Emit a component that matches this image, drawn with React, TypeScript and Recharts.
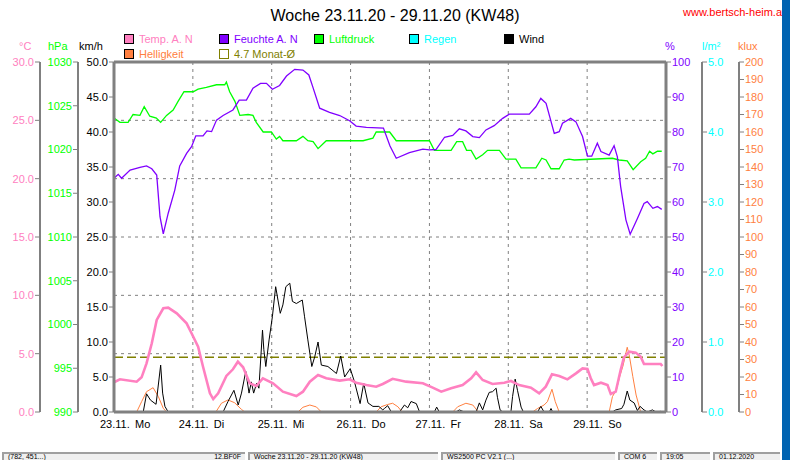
import React from 'react';
import { ComposedChart, Line, XAxis, YAxis, CartesianGrid, ReferenceLine } from 'recharts';

const FONT = '"Liberation Sans", Arial, sans-serif';
const COL = {
  temp: '#FF80C0',
  hum: '#8000FF',
  press: '#00FF00',
  rain: '#00FFFF',
  wind: '#000000',
  light: '#FF8040',
  avg: '#808000',
  axis: '#808080',
};

// x = hours since 23.11. 00:00
const DAY_TICKS = [0, 24, 48, 72, 96, 120, 144];
const DAY_DATES = ['23.11.', '24.11.', '25.11.', '26.11.', '27.11.', '28.11.', '29.11.'];
const DAY_NAMES = ['Mo', 'Di', 'Mi', 'Do', 'Fr', 'Sa', 'So'];

const KMH_TICKS = [0, 5, 10, 15, 20, 25, 30, 35, 40, 45, 50];
const HPA_TICKS = [990, 995, 1000, 1005, 1010, 1015, 1020, 1025, 1030];
const TEMP_TICKS = [0, 5, 10, 15, 20, 25, 30];
const HUM_TICKS = [0, 10, 20, 30, 40, 50, 60, 70, 80, 90, 100];
const RAIN_TICKS = [0, 1, 2, 3, 4, 5];
const LUX_TICKS = [0, 10, 20, 30, 40, 50, 60, 70, 80, 90, 100, 110, 120, 130, 140, 150, 160, 170, 180, 190, 200];

const MONTH_AVG_TEMP = 4.7;

// Temperature °C
const TEMP: [number, number][] = [
  [0, 2.55], [1.8, 2.8], [6.9, 2.6], [8.4, 2.97], [9.9, 4.17], [11.5, 5.89], [13, 7.89], [15, 8.89],
  [16.5, 8.94], [19.1, 8.46], [22.1, 7.6], [23.6, 6.75], [25.6, 5.6], [27.1, 3.88], [29.2, 1.6],
  [30.2, 1.11], [31.7, 1.6], [34.2, 3.09], [36.2, 3.66], [37.7, 4.31], [39.3, 3.83], [41.3, 2.46],
  [43.3, 2.23], [45.3, 2.89], [48.4, 2.46], [51.4, 1.74], [55.5, 1.37], [57.5, 1.74], [59.6, 2.6],
  [62.1, 3.17], [64.6, 2.89], [68.7, 2.69], [71.7, 2.8], [73.7, 2.51], [76.8, 2.31], [79.8, 2.17],
  [81.8, 2.4], [84.8, 2.85], [88.9, 2.6], [94, 2.46], [97, 2.09], [99.6, 1.74], [102.6, 2.03],
  [106.1, 2.31], [108.7, 2.89], [110.2, 3.4], [112.2, 2.74], [115.2, 2.4], [118.8, 2.51], [120.8, 2.66],
  [123.3, 2.31], [126.9, 2.09], [129.4, 1.6], [131.4, 2.17], [133.3, 3.23], [135.5, 3.09], [138, 2.8],
  [140.6, 3.31], [142.6, 3.74], [144.1, 3.69], [145.1, 2.89], [146.1, 2.31], [148.2, 2.51], [150.2, 2.31],
  [151.2, 1.54], [152.7, 1.74], [154.2, 3.6], [155.2, 4.69], [156.8, 5.17], [158.8, 5.09], [160.3, 4.74],
  [161.3, 4.11], [163.8, 4.11], [166.4, 4.11], [166.9, 3.94],
];

// Relative humidity %
const HUM: [number, number][] = [
  [0, 66.8], [1.3, 67.9], [2.3, 66.8], [4.9, 69.1], [7.9, 69.9], [9.9, 70.3], [11.5, 69.5], [13, 67.7],
  [14, 55.8], [15, 50.9], [16.5, 56.8], [18.5, 63.4], [20, 70.3], [22.1, 73.9], [23.6, 75.8], [24.9, 78.9],
  [27.1, 78.9], [28.3, 80.3], [29.7, 80.1], [31.2, 83.4], [33.2, 84.7], [36.2, 86.3], [38.1, 89.1],
  [40.3, 89.1], [42.3, 92.5], [44.6, 93.9], [46.4, 93.9], [48.2, 92.2], [50.4, 93.3], [52.5, 96],
  [55, 97.9], [57.5, 97.7], [59.3, 96.3], [60.5, 92.9], [62.6, 86.8], [65.6, 85.6], [68.7, 84.7],
  [71.7, 83.2], [73.7, 81.7], [76.8, 81.3], [82, 81.1], [84, 76], [85.9, 72.5], [89.9, 74.1], [94, 75.1],
  [96, 74.9], [98, 75.0], [100.6, 78.5], [103.1, 79.0], [105.1, 80.9], [107.1, 80.3], [109.2, 78.7],
  [111.2, 78.4], [113.2, 80.6], [115.7, 81.8], [118.3, 83.9], [120.3, 85.1], [126.4, 85.1], [128.4, 87.2],
  [129.9, 89.6], [131.5, 88.2], [134, 79.6], [135.5, 80.1], [136.5, 82.5], [139, 83.9], [140.6, 82.9],
  [142.6, 78.7], [144.1, 73.1], [145.4, 73.1], [147.1, 76.8], [148.2, 74.4], [150.7, 73.4], [152.2, 76.1],
  [153.2, 72.9], [154.2, 64.4], [155.8, 54.9], [157.1, 50.8], [159.3, 55.3], [161.3, 59.6], [162.3, 60.1],
  [164, 58.2], [165.4, 58.7], [166.7, 57.9],
];

// Air pressure hPa
const PRESS: [number, number][] = [
  [0, 1023.6], [1.8, 1023.1], [4.3, 1023.1], [5.8, 1024.0], [7.9, 1023.9], [9.2, 1024.9], [10.9, 1023.8],
  [12.9, 1023.6], [14.2, 1023.1], [16, 1023.9], [18, 1024.5], [19.5, 1025.5], [21.3, 1026.6], [24.1, 1026.6],
  [25.6, 1026.9], [28.1, 1027.1], [31.2, 1027.4], [33.7, 1027.4], [34.2, 1027.7], [35.2, 1026.6],
  [36.8, 1025.5], [38.3, 1023.9], [40.8, 1024.0], [42.3, 1023.9], [43.3, 1023.1], [45.4, 1022.0],
  [47.9, 1022.0], [49.4, 1021.2], [50.4, 1021.5], [51.4, 1021.0], [55.5, 1021.0], [57.5, 1021.5],
  [59, 1021.0], [60.6, 1020.9], [62.1, 1020.1], [64.6, 1021.0], [69.7, 1021.0], [75.8, 1021.0],
  [78.8, 1021.3], [79.8, 1022.0], [83.9, 1022.0], [85.9, 1021.0], [96, 1021.0], [97.5, 1019.9],
  [102.6, 1019.9], [104.3, 1020.9], [106.1, 1020.9], [107.3, 1019.9], [108.7, 1019.9], [110.2, 1018.9],
  [112.2, 1019.4], [113.7, 1019.9], [117.3, 1019.9], [119.3, 1018.9], [122.3, 1018.9], [123.9, 1017.9],
  [128.4, 1017.9], [130.2, 1019.0], [131.5, 1018.8], [133, 1017.8], [135.5, 1017.8],
  [137, 1018.8], [138.5, 1018.9], [140.1, 1018.8], [151.7, 1019.0], [153.7, 1018.8], [156.2, 1018.7],
  [158, 1017.7], [160.3, 1018.6], [161.8, 1019.0], [163, 1019.8], [164, 1019.5], [165.4, 1019.8],
  [166.7, 1019.8],
];

// Wind km/h
const WIND: [number, number][] = [
  [0, 0], [8.9, 0], [9.9, 2.6], [11.1, 1.7], [12.8, 1.1], [14.2, 6.7], [14.8, 2.7], [15.5, 0.8], [16.5, 0],
  [33.2, 0], [34.7, 1.5], [36.5, 3.1], [37.8, 1.0], [38.8, 2.7], [40.1, 5.8], [41.1, 2.7], [41.8, 4.3],
  [42.5, 2.7], [43.4, 4.1], [44.1, 3.4], [45.2, 11.7], [45.6, 8.9], [46.2, 6.5], [47.2, 10.3], [48.2, 13.6],
  [49.2, 17.9], [49.9, 16], [50.6, 14.1], [51.4, 15.3], [52.3, 17.9], [53.5, 18.4], [54.3, 15.8],
  [55.5, 15.5], [57.3, 16], [58, 13.6], [59, 10.3], [60.2, 6.5], [61.1, 7.9], [62.1, 10.0], [63.1, 6.7],
  [65.1, 6.5], [67.7, 5.5], [69, 8.0], [70.2, 5.0], [71.9, 6.2], [73.2, 4.3], [74.9, 1.2], [76, 4.1],
  [77.3, 1.3], [78.8, 0.8], [80.6, 0.8], [81.8, 0.3], [82.3, 0.5], [83.3, 0.9], [84.4, 0], [86.9, 0],
  [88.4, 1.0], [89.4, 0.6], [90.4, 1.5], [92, 1.2], [93, 0], [97.5, 0], [98.2, 0.7], [99, 0], [104.1, 0],
  [105.1, 0.3], [106.6, 0], [110.2, 0], [111.2, 1.3], [112.2, 0.3], [113.2, 1.7], [114.2, 2.8],
  [115.2, 2.9], [116.3, 3.4], [116.7, 2.1], [117.5, 0.3], [118.3, 0], [120.8, 0], [121.3, 2.2],
  [122.1, 4.7], [122.8, 3.1], [123.9, 0.7], [124.6, 0], [128.9, 0], [129.9, 0.8], [130.9, 0], [132.5, 0],
  [133, 0.5], [133.5, 0], [151.7, 0], [152.7, 0.3], [154.5, 0.5], [155.2, 1.1], [156.2, 3.0], [157, 1.7],
  [158.3, 1.3], [159.3, 0.2], [160.1, 0.8], [161.3, 0.3], [162.3, 0], [163.9, 0.3], [164.9, 0], [166.4, 0.1],
];

// Brightness klux
const LIGHT: [number, number][] = [
  [0, 0], [6.9, 0], [8.4, 5.9], [9.9, 11.6], [11.9, 13.9], [13.5, 8.8], [15, 2.1], [16, 0],
  [31, 0], [32.7, 5], [34.7, 6.9], [36.7, 5.3], [38.8, 1.5], [39.8, 0],
  [56, 0], [57.5, 2.7], [59.6, 4], [61.6, 2.9], [63.1, 0],
  [79.8, 0], [81.3, 3], [83.3, 4.3], [84.8, 5], [86.4, 3], [87.7, 0],
  [103.1, 0], [104.6, 3], [107.1, 5], [109.2, 4], [110.9, 0],
  [127.4, 0], [128.9, 2], [130.9, 4], [131.9, 5.9], [133.3, 13], [134.3, 5.9], [135.5, 0],
  [150.7, 0], [151.7, 8.8], [152.9, 12.6], [153.9, 20.2], [154.9, 26.3], [156.2, 37], [156.9, 31.6],
  [157.9, 20.2], [158.9, 9.7], [160.3, 0], [166.9, 0],
];

const pts = (arr: [number, number][]) => arr.map(([h, v]) => ({ h, v }));

const DayTick = (props: any) => {
  const { x, y, payload } = props;
  const i = DAY_TICKS.indexOf(payload.value);
  return (
    <g>
      <text x={x - 14} y={y} dy="0.71em" fontSize={11} fill="#000" fontFamily={FONT}>{DAY_DATES[i]}</text>
      <text x={x + 21} y={y} dy="0.71em" fontSize={11} fill="#000" fontFamily={FONT}>{DAY_NAMES[i]}</text>
    </g>
  );
};

const one = (v: number) => v.toFixed(1);

const axisCommon = (color: string, frame = false) => ({
  tick: { fill: color, fontSize: 11, fontFamily: FONT },
  tickLine: { stroke: COL.axis, strokeWidth: 1 },
  axisLine: { stroke: COL.axis, strokeWidth: frame ? 3 : 2 },
  tickSize: 5,
  tickMargin: 1,
  interval: 0 as const,
  allowDataOverflow: true,
});

const LEGEND = [
  { label: 'Temp. A. N', color: COL.temp, col: 0, row: 0 },
  { label: 'Feuchte A. N', color: COL.hum, col: 1, row: 0 },
  { label: 'Luftdruck', color: COL.press, col: 2, row: 0 },
  { label: 'Regen', color: COL.rain, col: 3, row: 0 },
  { label: 'Wind', color: COL.wind, col: 4, row: 0 },
  { label: 'Helligkeit', color: COL.light, col: 0, row: 1 },
  { label: '4.7 Monat-Ø', color: COL.avg, col: 1, row: 1, hollow: true },
];

const UNITS = [
  { label: '°C', color: COL.temp, left: 11 },
  { label: 'hPa', color: COL.press, left: 40 },
  { label: 'km/h', color: '#000', left: 71 },
  { label: '%', color: COL.hum, left: 657 },
  { label: 'l/m²', color: COL.rain, left: 694 },
  { label: 'klux', color: COL.light, left: 730 },
];

const STATUS = [
  { l: 2, w: 243, text: '(782, 451...)', right: '12.BF0F' },
  { l: 248, w: 190, text: 'Woche 23.11.20 - 29.11.20 (KW48)' },
  { l: 441, w: 174, text: 'WS2500 PC V2.1     (...)' },
  { l: 618, w: 39, text: 'COM 6' },
  { l: 660, w: 50, text: '19:05' },
  { l: 713, w: 67, text: '01.12.2020' },
];

// Axis ids are prefixed so that their sorted order stacks them outward from the plot
export default function App() {
  return (
    <div style={{ position: 'relative', width: 774, height: 436, fontFamily: FONT, background: '#fff' }}>
      <ComposedChart width={774} height={432} margin={{ top: 54, right: 0, bottom: 0, left: 0 }}>
        <CartesianGrid yAxisId="l3_temp" stroke={COL.axis} strokeDasharray="3 4" />
        <XAxis
          dataKey="h"
          type="number"
          domain={[0, 168]}
          ticks={DAY_TICKS}
          interval={0}
          height={28}
          tick={<DayTick />}
          tickLine={false}
          axisLine={{ stroke: COL.axis, strokeWidth: 3 }}
          allowDataOverflow
        />
        <YAxis yAxisId="l1_kmh" orientation="left" width={36} domain={[0, 50]} ticks={KMH_TICKS} tickFormatter={one} {...axisCommon('#000', true)} />
        <YAxis yAxisId="l2_hpa" orientation="left" width={38} domain={[990, 1030]} ticks={HPA_TICKS} {...axisCommon(COL.press)} />
        <YAxis yAxisId="l3_temp" orientation="left" width={32} domain={[0, 30]} ticks={TEMP_TICKS} tickFormatter={one} {...axisCommon(COL.temp)} />
        <YAxis yAxisId="r1_hum" orientation="right" width={36} domain={[0, 100]} ticks={HUM_TICKS} {...axisCommon(COL.hum, true)} />
        <YAxis yAxisId="r2_rain" orientation="right" width={37} domain={[0, 5]} ticks={RAIN_TICKS} tickFormatter={one} {...axisCommon(COL.rain)} />
        <YAxis yAxisId="r3_lux" orientation="right" width={43} domain={[0, 200]} ticks={LUX_TICKS} {...axisCommon(COL.light)} />

        <ReferenceLine yAxisId="l1_kmh" y={50} stroke={COL.axis} strokeWidth={3} />
        <ReferenceLine yAxisId="l3_temp" y={MONTH_AVG_TEMP} stroke={COL.avg} strokeWidth={1.5} strokeDasharray="9 4" />

        <Line data={pts(LIGHT)} yAxisId="r3_lux" dataKey="v" stroke={COL.light} strokeWidth={1} dot={false} isAnimationActive={false} />
        <Line data={pts(WIND)} yAxisId="l1_kmh" dataKey="v" stroke={COL.wind} strokeWidth={1} dot={false} isAnimationActive={false} />
        <Line data={pts(PRESS)} yAxisId="l2_hpa" dataKey="v" stroke={COL.press} strokeWidth={1.3} dot={false} isAnimationActive={false} />
        <Line data={pts(HUM)} yAxisId="r1_hum" dataKey="v" stroke={COL.hum} strokeWidth={1.3} dot={false} isAnimationActive={false} />
        <Line data={pts(TEMP)} yAxisId="l3_temp" dataKey="v" stroke={COL.temp} strokeWidth={2.6} dot={false} isAnimationActive={false} />
      </ComposedChart>

      <div style={{ position: 'absolute', left: 0, top: -1, width: 774, textAlign: 'center', fontSize: 16, lineHeight: '18px', color: '#000' }}>
        Woche 23.11.20 - 29.11.20 (KW48)
      </div>
      <div style={{ position: 'absolute', left: 675, top: -2, fontSize: 11, lineHeight: '13px', color: '#FF0000', whiteSpace: 'nowrap' }}>
        www.bertsch-heim.at
      </div>

      {LEGEND.map((it) => (
        <div key={it.label} style={{ position: 'absolute', left: 116 + it.col * 95, top: 25 + it.row * 15, height: 12, display: 'flex', alignItems: 'center', whiteSpace: 'nowrap' }}>
          <span style={{
            display: 'inline-block', width: 8, height: 8, marginRight: 5,
            background: it.hollow ? 'transparent' : it.color,
            border: it.hollow ? `1px solid ${it.color}` : '1px solid #000',
          }} />
          <span style={{ fontSize: 11, color: it.color, lineHeight: '12px' }}>{it.label}</span>
        </div>
      ))}

      {UNITS.map((u) => (
        <div key={u.label} style={{ position: 'absolute', left: u.left, top: 32, fontSize: 11, lineHeight: '12px', color: u.color, whiteSpace: 'nowrap' }}>
          {u.label}
        </div>
      ))}

      <div style={{ position: 'fixed', left: 0, top: 451, width: 782, height: 9, background: '#fff', overflow: 'hidden' }}>
        {STATUS.map((s) => (
          <div key={s.l} style={{
            position: 'absolute', left: s.l, top: 1, width: s.w, height: 8, boxSizing: 'border-box',
            background: '#F0F0F0', borderTop: '2px solid #A0A0A0', borderLeft: '2px solid #A0A0A0',
            fontSize: 7, lineHeight: '6px', paddingLeft: 4, color: '#000', whiteSpace: 'nowrap', overflow: 'hidden',
          }}>
            {s.text}
            {s.right ? <span style={{ position: 'absolute', right: 4, top: 0 }}>{s.right}</span> : null}
          </div>
        ))}
      </div>
      <div style={{ position: 'fixed', right: 0, top: 0, width: 8, height: '100%', background: '#0063B1' }} />
    </div>
  );
}
